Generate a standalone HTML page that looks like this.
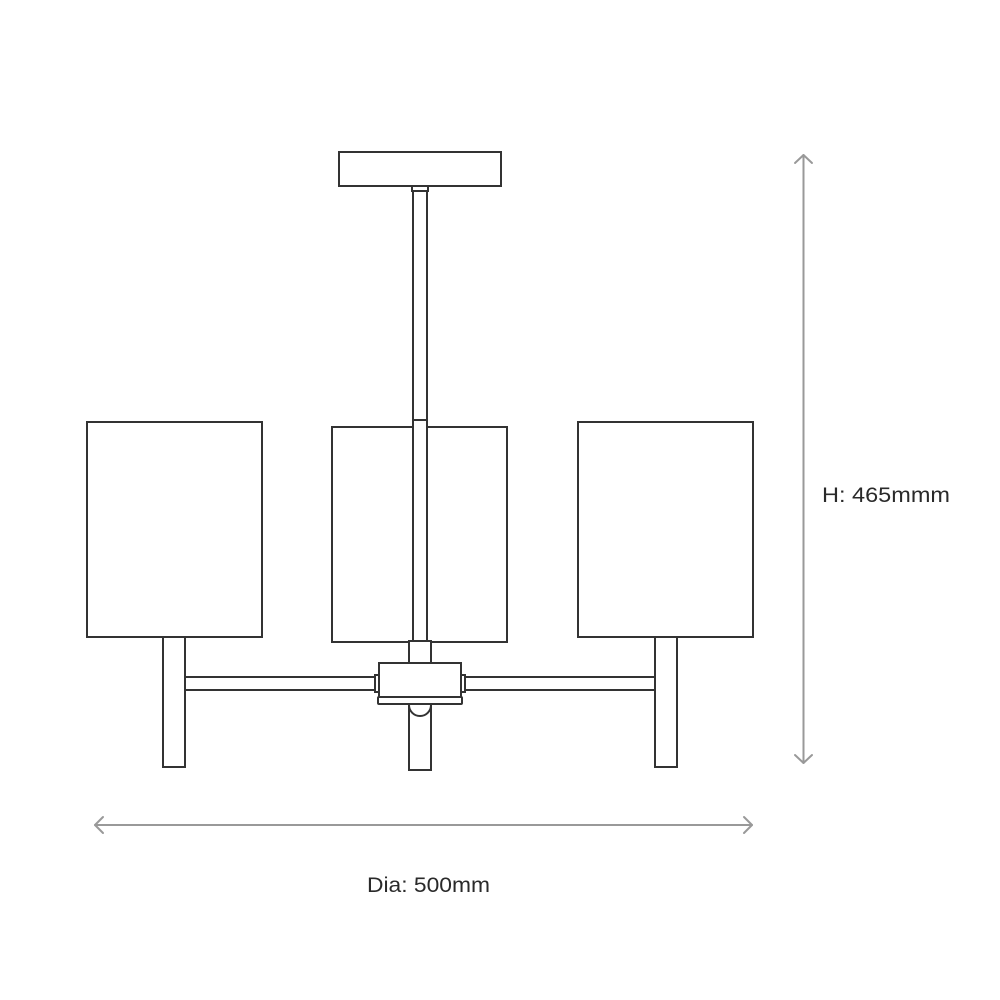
<!DOCTYPE html>
<html><head><style>
html,body{margin:0;padding:0;background:#fff;width:1000px;height:1000px;overflow:hidden}
svg{display:block}
text{font-family:"Liberation Sans",sans-serif;font-size:21px;fill:#2a2a2a}
</style></head><body>
<svg width="1000" height="1000" viewBox="0 0 1000 1000">
<g fill="#fff" stroke="#333" stroke-width="2">
<rect x="339" y="152" width="162" height="34"/>
<rect x="412" y="186" width="16" height="5"/>
<rect x="413" y="191" width="14" height="450"/>
<rect x="87" y="422" width="175" height="215"/>
<rect x="578" y="422" width="175" height="215"/>
<rect x="332" y="427" width="175" height="215"/>
<rect x="413" y="420" width="14" height="221"/>
<rect x="163" y="637" width="22" height="130"/>
<rect x="655" y="637" width="22" height="130"/>
<rect x="185" y="677" width="192" height="13"/>
<rect x="464" y="677" width="191" height="13"/>
<rect x="409" y="641" width="22" height="22"/>
<rect x="409" y="704" width="22" height="66"/>
<path d="M409 705 A11 11 0 0 0 431 705"/>
<rect x="375" y="675" width="5" height="17"/>
<rect x="460" y="675" width="5" height="17"/>
<rect x="379" y="663" width="82" height="34"/>
<rect x="378" y="697" width="84" height="7" rx="1"/>
</g>
<g stroke="#999" stroke-width="2" fill="none" stroke-linecap="round" stroke-linejoin="round">
<line x1="803.5" y1="155" x2="803.5" y2="763"/>
<polyline points="795,163 803.5,155 812,163"/>
<polyline points="795,755 803.5,763 812,755"/>
<line x1="95" y1="825" x2="752" y2="825"/>
<polyline points="103,817 95,825 103,833"/>
<polyline points="744,817 752,825 744,833"/>
</g>
<text x="367" y="892" textLength="123" lengthAdjust="spacingAndGlyphs">Dia: 500mm</text>
<text x="822" y="502" textLength="128" lengthAdjust="spacingAndGlyphs">H: 465mmm</text>
</svg>
</body></html>
